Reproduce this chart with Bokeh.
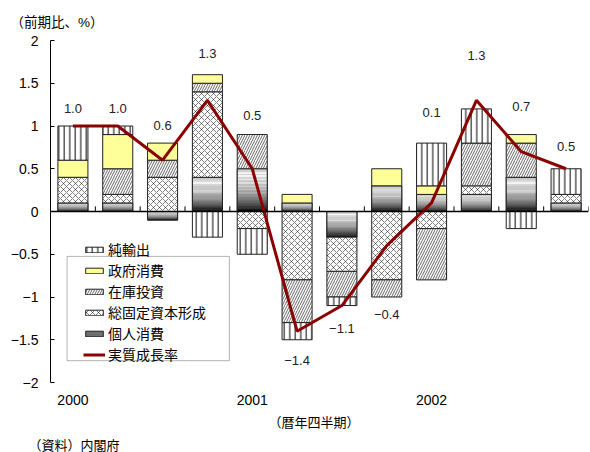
from bokeh.plotting import figure
from bokeh.models import (ColumnDataSource, Span, Legend, LegendItem, FixedTicker,
                          BoxAnnotation, Title, Range1d, CustomJSTickFormatter)
from bokeh.core.properties import value
from bokeh.embed import file_html
from bokeh.resources import INLINE

# Quarterly contributions to real GDP growth (%, q/q)
quarters = ["2000Q1", "2000Q2", "2000Q3", "2000Q4",
            "2001Q1", "2001Q2", "2001Q3", "2001Q4",
            "2002Q1", "2002Q2", "2002Q3", "2002Q4"]
year_labels = ["2000", "2001", "2002"]

private_consumption = [0.1, 0.1, -0.1, 0.4, 0.5, 0.1, -0.3, 0.3, 0.2, 0.2, 0.4, 0.1]
fixed_capital = [0.3, 0.1, 0.4, 1.0, -0.2, -0.8, -0.4, -0.8, -0.2, 0.1, 0.0, 0.1]
inventory = [0.0, 0.3, 0.2, 0.1, 0.4, -0.5, -0.3, -0.2, -0.6, 0.5, 0.4, 0.0]
government = [0.2, 0.4, 0.2, 0.1, 0.0, 0.1, 0.0, 0.2, 0.1, 0.0, 0.1, 0.0]
net_exports = [0.4, 0.1, 0.0, -0.3, -0.3, -0.2, -0.1, 0.0, 0.5, 0.4, -0.2, 0.3]
real_growth = [1.0, 1.0, 0.6, 1.3, 0.5, -1.4, -1.1, -0.4, 0.1, 1.3, 0.7, 0.5]

# layout tuning: distance of each value label from its bar end (data units)
label_gap = [0.21, 0.21, 0.21, 0.25, 0.22, 0.245, 0.27, 0.21, 0.36, 0.53, 0.33, 0.26]

JP = "Noto Sans CJK JP"
# Latin font first (compact line metrics), CJK glyphs fall back to Noto
JP_COMPACT = "Liberation Sans, 'Noto Sans CJK JP'"
NUM = "Liberation Sans"
BAR_W = 0.67
n = len(quarters)
centers = [i + 0.5 for i in range(n)]

p = figure(width=590, height=452, output_backend="svg", toolbar_location=None,
           x_range=Range1d(0, n), y_range=Range1d(-2, 2),
           min_border_left=50, min_border_right=2, min_border_top=40,
           min_border_bottom=70, outline_line_color=None,
           background_fill_color="white", border_fill_color="white")
p.grid.visible = False

# y axis: ticks pointing inward, unicode minus
p.yaxis.ticker = FixedTicker(ticks=[-2, -1.5, -1, -0.5, 0, 0.5, 1, 1.5, 2])
p.yaxis.formatter = CustomJSTickFormatter(
    code="return tick < 0 ? '\u2212' + (-tick).toString() : tick.toString();")
p.yaxis.major_tick_in = 4
p.yaxis.major_tick_out = 0
p.yaxis.minor_tick_line_color = None
p.yaxis.axis_line_color = "black"
p.yaxis.major_tick_line_color = "black"
p.yaxis.major_label_text_font = NUM
p.yaxis.major_label_text_font_size = "14px"
p.yaxis.major_label_text_color = "black"
p.yaxis.major_label_standoff = 12

# x axis: year labels under the first quarter of each year
year_ticks = [centers[i] for i, q in enumerate(quarters) if q.endswith("Q1")]
p.xaxis.ticker = FixedTicker(ticks=year_ticks)
p.xaxis.formatter = CustomJSTickFormatter(
    args=dict(labels=year_labels), code="return labels[Math.floor(tick / 4)];")
p.xaxis.axis_line_color = None
p.xaxis.major_tick_line_color = None
p.xaxis.minor_tick_line_color = None
p.xaxis.major_label_text_font = NUM
p.xaxis.major_label_text_font_size = "14px"
p.xaxis.major_label_text_color = "black"
p.xaxis.major_label_standoff = 6


def stack(series_list):
    pos = [0.0] * n
    neg = [0.0] * n
    out = []
    for vals in series_list:
        seg = dict(left=[], right=[], bottom=[], top=[])
        for i, v in enumerate(vals):
            if v == 0:
                continue
            if v > 0:
                b, t = pos[i], pos[i] + v
                pos[i] = t
            else:
                b, t = neg[i] + v, neg[i]
                neg[i] = b
            seg["left"].append(centers[i] - BAR_W / 2)
            seg["right"].append(centers[i] + BAR_W / 2)
            seg["bottom"].append(b)
            seg["top"].append(t)
        out.append(seg)
    return out, pos, neg


segs, pos_total, neg_total = stack(
    [private_consumption, fixed_capital, inventory, government, net_exports])
seg_pc, seg_fc, seg_inv, seg_gov, seg_nx = segs

# private consumption: base block (also used as legend swatch), then a
# vertical white-to-black gradient built from thin slices, then the outline
r_pc = p.quad(left="left", right="right", bottom="bottom", top="top",
              fill_color="#6e6e6e", line_color="#222222", line_width=1,
              source=ColumnDataSource(seg_pc))
N_SLICES = 30
grad = dict(left=[], right=[], bottom=[], top=[], color=[])
for l, r, b, t in zip(seg_pc["left"], seg_pc["right"], seg_pc["bottom"], seg_pc["top"]):
    h = t - b
    for k in range(N_SLICES):
        st = t - h * k / N_SLICES
        sb = t - h * (k + 1) / N_SLICES
        f = (k + 0.5) / N_SLICES
        g = int(round(250 * (1 - f ** 2)))
        if f < 0.12:
            g = int(round(g - 30 * (0.12 - f) / 0.12))
        grad["left"].append(l)
        grad["right"].append(r)
        grad["top"].append(st)
        grad["bottom"].append(sb)
        grad["color"].append("#%02x%02x%02x" % (g, g, g))
p.quad(left="left", right="right", bottom="bottom", top="top", fill_color="color",
       line_color=None, source=ColumnDataSource(grad))
p.quad(left="left", right="right", bottom="bottom", top="top", fill_alpha=0,
       line_color="#222222", line_width=1, source=ColumnDataSource(seg_pc))

common = dict(line_color="#222222", line_width=1, hatch_color="black")
r_fc = p.quad(left="left", right="right", bottom="bottom", top="top",
              source=ColumnDataSource(seg_fc), fill_color="white",
              hatch_pattern="diagonal_cross", hatch_scale=6, hatch_weight=0.5, **common)
r_inv = p.quad(left="left", right="right", bottom="bottom", top="top",
               source=ColumnDataSource(seg_inv), fill_color="white",
               hatch_pattern="right_diagonal_line", hatch_scale=5, hatch_weight=0.6, **common)
r_gov = p.quad(left="left", right="right", bottom="bottom", top="top",
               source=ColumnDataSource(seg_gov), fill_color="#ffff99",
               line_color="#222222", line_width=1)
r_nx = p.quad(left="left", right="right", bottom="bottom", top="top",
              source=ColumnDataSource(seg_nx), fill_color="white",
              hatch_pattern="vertical_line", hatch_scale=5.5, hatch_weight=1, **common)

# zero line with quarter boundary ticks
p.add_layout(Span(location=0, dimension="width", line_color="black", line_width=1.5))
bounds = list(range(n + 1))
p.segment(x0=bounds, y0=[0] * len(bounds), x1=bounds, y1=[0.06] * len(bounds),
          line_color="black", line_width=1)

# real GDP growth line
r_line = p.line(centers, real_growth, line_color="#8b0000", line_width=3)

# value labels
lab_y, lab_t = [], []
for i, v in enumerate(real_growth):
    if v >= 0:
        lab_y.append(max(pos_total[i], v) + label_gap[i])
    else:
        lab_y.append(min(neg_total[i], v) - label_gap[i])
    lab_t.append(("%.1f" % v).replace("-", "\u2212"))
p.text(x=centers, y=lab_y, text=lab_t, text_align="center", text_baseline="middle",
       text_font=value(NUM), text_font_size="13px", text_color="#222222")

# legend
p.add_layout(BoxAnnotation(left=0.37, right=3.99, bottom=-1.745, top=-0.525,
                           fill_color="white", fill_alpha=1, line_color="black",
                           line_width=1))
legend = Legend(items=[
    LegendItem(label="純輸出", renderers=[r_nx]),
    LegendItem(label="政府消費", renderers=[r_gov]),
    LegendItem(label="在庫投資", renderers=[r_inv]),
    LegendItem(label="総固定資本形成", renderers=[r_fc]),
    LegendItem(label="個人消費", renderers=[r_pc]),
    LegendItem(label="実質成長率", renderers=[r_line]),
], location=(31, 16), border_line_alpha=0, background_fill_alpha=0, padding=2,
    margin=0, spacing=1, label_height=14, glyph_height=7, glyph_width=22,
    label_standoff=3, label_text_font=JP_COMPACT, label_text_font_size="14px",
    label_text_line_height=0.85, label_text_color="black")
p.add_layout(legend)

# unit note above, period and source notes below
p.add_layout(Title(text="（前期比、%）", align="left", offset=-40, standoff=21,
                   text_font=JP_COMPACT, text_font_size="13.5px",
                   text_font_style="normal", text_color="black"), "above")
p.add_layout(Title(text="（暦年四半期）", align="left", offset=218, standoff=5,
                   text_font=JP, text_font_size="13px", text_font_style="normal",
                   text_color="black"), "below")
p.add_layout(Title(text="（資料）内閣府", align="left", offset=-22, standoff=-2,
                   text_font=JP, text_font_size="13px", text_font_style="normal",
                   text_color="black"), "below")

open("out.html", "w").write(file_html(p, INLINE))
